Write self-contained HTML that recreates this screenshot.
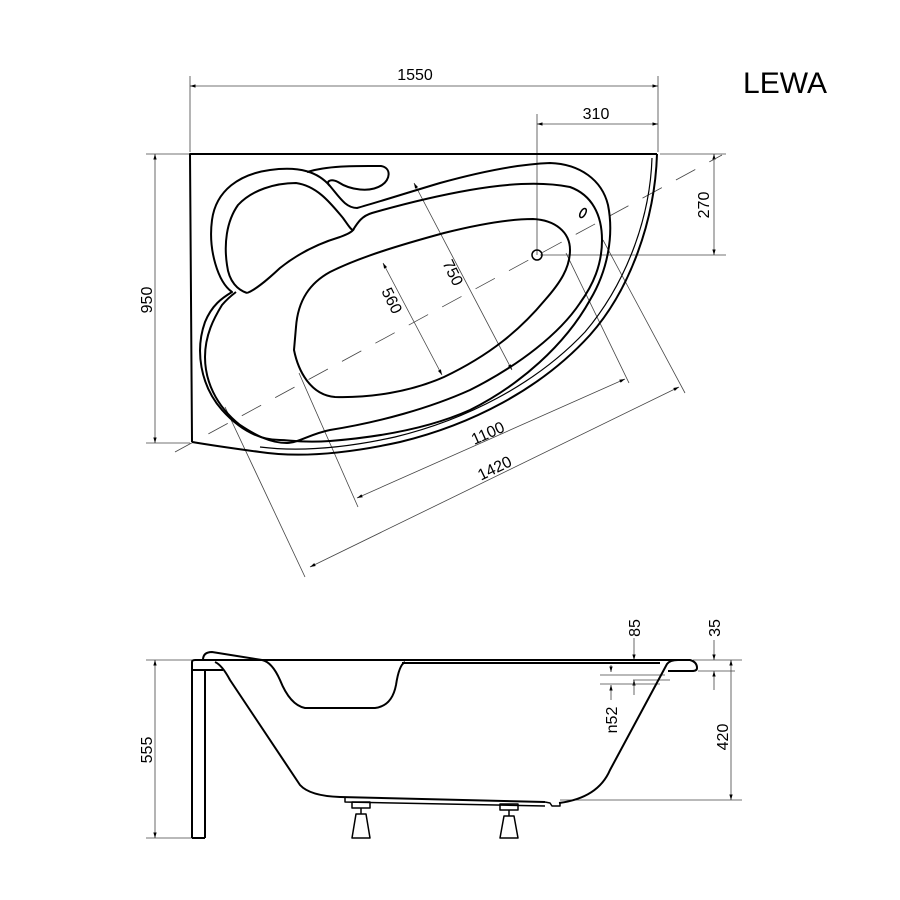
<!DOCTYPE html>
<html><head><meta charset="utf-8"><style>html,body{margin:0;padding:0;background:#fff}svg{display:block}</style></head>
<body>
<svg width="900" height="900" viewBox="0 0 900 900" xmlns="http://www.w3.org/2000/svg" font-family="Liberation Sans, sans-serif">
<defs><marker id="a" viewBox="0 0 10 10" refX="10" refY="5" markerWidth="7" markerHeight="7" orient="auto-start-reverse"><path d="M0,2 L10,5 L0,8 z" fill="#000"/></marker></defs>
<rect width="900" height="900" fill="#fff"/>
<text x="785" y="93" font-size="30" text-anchor="middle">LEWA</text>

<g stroke="#444" stroke-width="0.8" fill="none">
<line x1="190" y1="76" x2="190" y2="152"/><line x1="658" y1="76" x2="658" y2="152"/>
<line x1="190" y1="86" x2="658" y2="86" marker-start="url(#a)" marker-end="url(#a)"/>
<line x1="537" y1="114" x2="537" y2="255"/>
<line x1="537" y1="124" x2="658" y2="124" marker-start="url(#a)" marker-end="url(#a)"/>
<line x1="660" y1="154" x2="726" y2="154"/><line x1="540" y1="255" x2="726" y2="255"/>
<line x1="714" y1="154" x2="714" y2="255" marker-start="url(#a)" marker-end="url(#a)"/>
<line x1="146" y1="154" x2="190" y2="154"/><line x1="146" y1="443" x2="190" y2="443"/>
<line x1="155" y1="154" x2="155" y2="443" marker-start="url(#a)" marker-end="url(#a)"/>
<line x1="175" y1="452" x2="722" y2="155" stroke-dasharray="22,16"/>
<line x1="299" y1="373" x2="358" y2="507"/><line x1="566" y1="253" x2="629" y2="383"/>
<line x1="357" y1="498" x2="625" y2="379" marker-start="url(#a)" marker-end="url(#a)"/>
<line x1="225" y1="407" x2="305" y2="577"/><line x1="603" y1="240" x2="685" y2="393"/>
<line x1="310" y1="567" x2="679" y2="387" marker-start="url(#a)" marker-end="url(#a)"/>
<line x1="414" y1="183" x2="512" y2="370" marker-start="url(#a)" marker-end="url(#a)"/>
<line x1="383" y1="263" x2="442" y2="375" marker-start="url(#a)" marker-end="url(#a)"/>
</g>
<g font-size="16" fill="#000">
<text x="415" y="80" text-anchor="middle">1550</text>
<text x="596" y="119" text-anchor="middle">310</text>
<text transform="translate(709,205) rotate(-90)" text-anchor="middle">270</text>
<text transform="translate(152,300) rotate(-90)" text-anchor="middle">950</text>
<text transform="translate(490,438) rotate(-24)" text-anchor="middle">1100</text>
<text transform="translate(497,473) rotate(-26)" text-anchor="middle">1420</text>
<text transform="translate(448,275) rotate(64)" text-anchor="middle">750</text>
<text transform="translate(387,303) rotate(64)" text-anchor="middle">560</text>
</g>

<g stroke="#000" stroke-width="2" fill="none" stroke-linejoin="round">
<path d="M192,442 L190,154 L657,154"/>
<path d="M657,154 C655,220 630,290 590,335 C540,390 470,425 400,442 C350,453 300,458 260,452 C230,448 210,445 192,442"/>
<path d="M652,158 C650,220 625,285 585,332 C535,385 465,420 395,437 C345,448 300,452 260,447" stroke-width="1.2"/>
<path d="M232,292 C218,282 208,250 212,220 C216,190 240,174 270,170 C300,166 318,172 330,186 C340,198 346,208 357,208 C375,203 400,195 440,183 C480,172 520,164 550,163 C580,164 602,180 608,205 C614,235 608,270 590,300 C565,345 520,385 470,410 C430,428 380,437 330,441 C300,443 290,440 280,440 C260,440 240,430 222,410 C200,385 195,350 205,322 C212,305 222,298 232,292 z"/>
<path d="M307,172 C330,165 360,166 381,166 C392,168 390,180 382,185 C370,193 350,190 338,182 C330,178 325,182 330,186"/>
<path d="M247,293 C238,290 229,282 227,265 C224,245 226,222 238,205 C252,190 275,183 296,183 C318,186 332,205 343,218 C348,225 351,230 353,230 C358,222 362,216 372,213 C400,205 430,197 470,190 C510,183 545,182 570,187 C592,195 602,215 602,240 C602,265 593,285 580,303 C560,333 520,365 470,390 C430,408 380,422 330,430 C310,434 298,443 287,443 C270,443 255,435 240,425 C215,405 205,380 205,357 C205,335 214,318 222,305 C228,298 232,295 236,292"/>
<path d="M247,293 C255,290 265,282 280,268 C300,252 320,243 340,237 C348,234 352,232 354,229"/>
<path d="M296,327 C298,300 310,283 330,272 C360,257 400,245 444,233 C480,224 510,219 533,219 C555,220 570,232 570,250 C570,268 560,283 545,300 C520,330 490,355 444,377 C410,392 370,398 335,397 C310,395 298,370 294,350 z"/>
<circle cx="537" cy="255" r="5" stroke-width="1.5"/>
<ellipse cx="583" cy="213" rx="2.5" ry="5" transform="rotate(30 583 213)" stroke-width="1.5"/>
</g>

<g stroke="#444" stroke-width="0.8" fill="none">
<line x1="146" y1="660" x2="192" y2="660"/><line x1="146" y1="838" x2="192" y2="838"/>
<line x1="155" y1="660" x2="155" y2="838" marker-start="url(#a)" marker-end="url(#a)"/>
<line x1="693" y1="660" x2="742" y2="660"/><line x1="560" y1="800" x2="742" y2="800"/>
<line x1="731" y1="660" x2="731" y2="800" marker-start="url(#a)" marker-end="url(#a)"/>
<line x1="634" y1="638" x2="634" y2="660" marker-end="url(#a)"/>
<line x1="634" y1="695" x2="634" y2="680" marker-end="url(#a)"/>
<line x1="633" y1="680" x2="670" y2="680"/>
<line x1="714" y1="640" x2="714" y2="660" marker-end="url(#a)"/>
<line x1="714" y1="690" x2="714" y2="671" marker-end="url(#a)"/>
<line x1="698" y1="671" x2="735" y2="671"/>
<line x1="611" y1="665" x2="611" y2="672" marker-end="url(#a)"/>
<line x1="611" y1="700" x2="611" y2="685" marker-end="url(#a)"/>
<line x1="600" y1="675" x2="665" y2="675"/><line x1="600" y1="684" x2="660" y2="684"/>
</g>
<g font-size="16" fill="#000">
<text transform="translate(152,750) rotate(-90)" text-anchor="middle">555</text>
<text transform="translate(728,737) rotate(-90)" text-anchor="middle">420</text>
<text transform="translate(640,628) rotate(-90)" text-anchor="middle">85</text>
<text transform="translate(720,628) rotate(-90)" text-anchor="middle">35</text>
<text transform="translate(617,720) rotate(-90)" text-anchor="middle">n52</text>
</g>

<g stroke="#000" stroke-width="2" fill="none" stroke-linejoin="round">
<path d="M192,838 L192,662 Q192,660 195,660 L690,660 Q697,662 697,668 Q697,671 692,671 L668,671"/>
<line x1="205" y1="670" x2="205" y2="838"/>
<line x1="192" y1="838" x2="205" y2="838"/>
<line x1="192" y1="670" x2="223" y2="670"/>
<path d="M203,660 Q203,652 212,652 L262,660"/>
<line x1="402" y1="663" x2="660" y2="663"/>
<path d="M262,660 Q272,662 280,680 Q290,705 305,708 L375,708 Q392,706 396,685 Q399,665 405,662"/>
<path d="M215,662 Q222,665 230,680 L300,785 Q310,796 340,797 L545,802"/>
<path d="M559,803 Q598,798 610,770 L667,664 Q670,660 678,660"/>
<path d="M545,802 L550,803 L552,806 L560,806 L560,802" stroke-width="1.5"/>
<path d="M345,797 L345,802 L545,806" stroke-width="1.5"/>
<rect x="352" y="802" width="18" height="6" stroke-width="1.5"/>
<rect x="500" y="804" width="18" height="6" stroke-width="1.5"/>
<line x1="361" y1="808" x2="361" y2="814" stroke-width="1.5"/>
<line x1="509" y1="810" x2="509" y2="816" stroke-width="1.5"/>
<path d="M356,814 L366,814 L370,838 L352,838 z" stroke-width="1.5"/>
<path d="M504,816 L514,816 L518,838 L500,838 z" stroke-width="1.5"/>
</g>
</svg>
</body></html>
